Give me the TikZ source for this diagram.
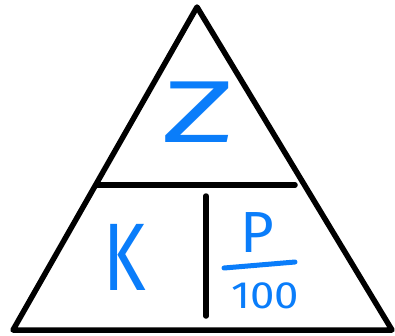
\documentclass[tikz,border=0pt]{standalone}
\usepackage{fontspec}
\setmainfont{Fira Sans}
\usepackage{xcolor}
\definecolor{penblue}{RGB}{10,125,250}

\begin{document}
\begin{tikzpicture}[x=1pt,y=-1pt,line width=5.5pt,line join=round,line cap=round,
  letter/.style={text=penblue,inner sep=0pt}]
%%%%%triangle starts here
\def\xa{197}
\def\ya{7}
\def\yb{330}
\def\yh{185}
\useasboundingbox (0,0) rectangle (395,335);

\coordinate (top) at (\xa,\ya);
\coordinate (left) at (13,\yb);
\coordinate (right) at (392,\yb);
\coordinate (hl) at (97,\yh);
\coordinate (hr) at (295,\yh);
\coordinate (vt) at (206,196);
\coordinate (vb) at (206,316);

\draw (top) -- (right) -- (left) -- cycle;
\draw (hl) -- (hr);
\draw (vt) -- (vb);
%%%%%triangle ends here

\node[letter,xscale=1.6] (z) at (198,112) {\fontsize{88}{88}\selectfont Z};
\node[letter,xscale=0.75] (k) at (125,257) {\fontsize{96}{96}\selectfont K};
\node[letter] (p) at (257,233) {\fontsize{58}{58}\selectfont P};
\node[letter,xscale=1.15] (h) at (265,296) {\fontsize{38}{38}\selectfont 100};
\coordinate (bl) at (224,268);
\coordinate (br) at (295,262);
\draw[penblue,line width=5pt] (bl) -- (br);
\end{tikzpicture}
\end{document}
